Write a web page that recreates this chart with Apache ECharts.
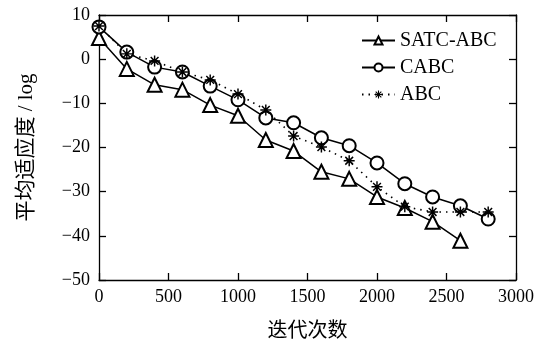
<!DOCTYPE html>
<html><head><meta charset="utf-8">
<script src="https://cdn.jsdelivr.net/npm/echarts@6/dist/echarts.min.js"></script>
<style>html,body{margin:0;padding:0;background:#fff}#c{width:548px;height:351px}</style>
</head><body><div id="c"></div>
<script>
const iterations = [0,200,400,600,800,1000,1200,1400,1600,1800,2000,2200,2400,2600,2800];
const satcAbc = [4.8,-2.2,-5.8,-6.9,-10.4,-12.8,-18.3,-20.8,-25.5,-27.1,-31.2,-33.7,-36.8,-41.1];
const cabc = [7.3,1.6,-1.8,-2.9,-6.1,-9.2,-13.3,-14.4,-17.8,-19.6,-23.5,-28.2,-31.2,-33.2,-36.2];
const abc = [7.5,1.2,-0.4,-2.9,-4.7,-7.9,-11.5,-17.4,-19.9,-23.0,-28.9,-33.4,-34.6,-34.6,-34.6];
const seriesNames = ['SATC-ABC','CABC','ABC'];
const xName = '迭代次数';
const yName = '平均适应度 / log';

const pair = (vals) => vals.map((v,i) => [iterations[i], v]);
const star = 'path://M1 8.8L19 8.8L19 11.2L1 11.2ZM8.8 1L11.2 1L11.2 19L8.8 19ZM2.79 4.49L4.49 2.79L17.21 15.51L15.51 17.21ZM17.21 4.49L4.49 17.21L2.79 15.51L15.51 2.79Z';
const serif = '"Liberation Serif","Times New Roman",serif';
const cjk = '"Liberation Serif","Noto Sans CJK SC",serif';
const fmt = v => String(v).replace('-', '\u2212');

const chart = echarts.init(document.getElementById('c'));
const axisCommon = {
  axisLine: {show: true, onZero: false, lineStyle: {color: '#000', width: 1.3}},
  axisTick: {show: true, inside: true, length: 7, lineStyle: {color: '#000', width: 1.3}},
  splitLine: {show: false}
};
chart.setOption({
  animation: false,
  backgroundColor: '#fff',
  grid: {left: 99, right: 32, top: 15, bottom: 71},
  legend: {
    left: 356, top: 25, orient: 'vertical', itemGap: 6, itemWidth: 33, itemHeight: 10,
    textStyle: {fontFamily: serif, fontSize: 20, color: '#000', lineHeight: 21},
    data: seriesNames
  },
  xAxis: [
    Object.assign({type: 'value', min: 0, max: 3000, interval: 500, position: 'bottom',
      name: xName, nameLocation: 'middle', nameGap: 42,
      nameTextStyle: {fontFamily: cjk, fontSize: 20, color: '#000'},
      axisLabel: {fontFamily: serif, fontSize: 18, color: '#000', margin: 8, formatter: fmt}}, axisCommon),
    Object.assign({type: 'value', min: 0, max: 3000, interval: 500, position: 'top',
      axisLabel: {show: false}}, axisCommon)
  ],
  yAxis: [
    Object.assign({type: 'value', min: -50, max: 10, interval: 10, position: 'left',
      name: yName, nameLocation: 'middle', nameGap: 62, nameRotate: 90,
      nameTextStyle: {fontFamily: cjk, fontSize: 21, color: '#000'},
      axisLabel: {fontFamily: serif, fontSize: 18, color: '#000', margin: 9, formatter: fmt}}, axisCommon),
    Object.assign({type: 'value', min: -50, max: 10, interval: 10, position: 'right',
      axisLabel: {show: false}}, axisCommon)
  ],
  series: [
    {name: seriesNames[0], type: 'line', data: pair(satcAbc), symbol: 'emptyTriangle', symbolSize: 14,
      color: '#000', itemStyle: {color: '#000', borderWidth: 1.3},
      lineStyle: {color: '#000', width: 1.5}},
    {name: seriesNames[1], type: 'line', data: pair(cabc), symbol: 'emptyCircle', symbolSize: 13,
      color: '#000', itemStyle: {color: '#000', borderWidth: 1.3},
      lineStyle: {color: '#000', width: 1.5}},
    {name: seriesNames[2], type: 'line', data: pair(abc), symbol: star, symbolSize: 11,
      color: '#000', itemStyle: {color: '#000'},
      lineStyle: {color: '#000', width: 1.6, type: [1.5, 5]}}
  ]
});
</script></body></html>
